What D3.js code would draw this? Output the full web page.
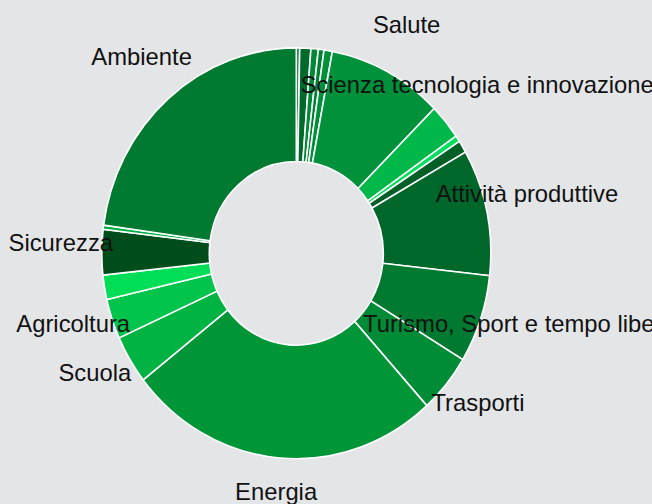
<!DOCTYPE html>
<html>
<head>
<meta charset="utf-8">
<script src="https://cdn.jsdelivr.net/npm/d3@7"></script>
<style>
  html, body { margin: 0; padding: 0; background: #e4e5e7; }
  svg { display: block; }
  .lbl { font-family: "Liberation Sans", Arial, sans-serif; font-size: 23.8px; fill: #111; }
</style>
</head>
<body>
<div id="chart"></div>
<script>
// categories in drawing order (clockwise from 12 o'clock)
const categories = ['Cultura', 'Lavoro', 'Giustizia', 'Difesa', 'Informatica', 'Salute',
  'Scienza tecnologia e innovazione', 'Politiche sociali', 'Casa', 'Attività produttive',
  'Turismo, Sport e tempo libero', 'Trasporti', 'Energia', 'Scuola', 'Agricoltura',
  'Territorio', 'Sicurezza', 'Trasparenza', 'Ambiente'];
// share of total (%)
const values = [0.28, 0.92, 0.61, 0.47, 0.69, 9.58, 2.78, 0.5, 0.97, 9.94,
  6.92, 4.64, 26.14, 3.81, 3.14, 1.92, 3.56, 0.33, 22.81];
const colors = ['#007d32', '#006a2a', '#008a36', '#008232', '#009038', '#00913a',
  '#00b84a', '#00e05a', '#005f26', '#00672a', '#007a30', '#008b36', '#009638',
  '#00b343', '#00c44c', '#00dd57', '#004d1c', '#00b046', '#007a30'];

const width = 652, height = 504;
const cx = 296.3, cy = 253.3;
const sy = 1.056;            // chart is slightly taller than wide
const outer = 194.5, inner = 87;
const labelR = 235.5;
const minLabel = 2.5;

const data = categories.map((c, i) => ({ name: c, value: values[i], color: colors[i] }));

const svg = d3.select('#chart').append('svg')
  .attr('width', width)
  .attr('height', height);

const pie = d3.pie().sort(null).value(d => d.value);
const arcs = pie(data);

const arc = d3.arc().innerRadius(inner).outerRadius(outer);
const labelArc = d3.arc().innerRadius(labelR).outerRadius(labelR);

const g = svg.append('g')
  .attr('transform', 'translate(' + cx + ',' + cy + ') scale(1,' + sy + ')');

g.selectAll('path')
  .data(arcs)
  .enter()
  .append('path')
  .attr('d', arc)
  .attr('fill', d => d.data.color)
  .attr('stroke', '#fff')
  .attr('stroke-width', 1.6)
  .attr('vector-effect', 'non-scaling-stroke');

// labels only for the bigger slices
svg.append('g')
  .selectAll('text')
  .data(arcs.filter(d => d.data.value >= minLabel))
  .enter()
  .append('text')
  .attr('class', 'lbl')
  .attr('text-anchor', 'middle')
  .attr('x', d => cx + labelArc.centroid(d)[0])
  .attr('y', d => cy + labelArc.centroid(d)[1] * sy - 0.8)
  .text(d => d.data.name);
</script>
</body>
</html>
